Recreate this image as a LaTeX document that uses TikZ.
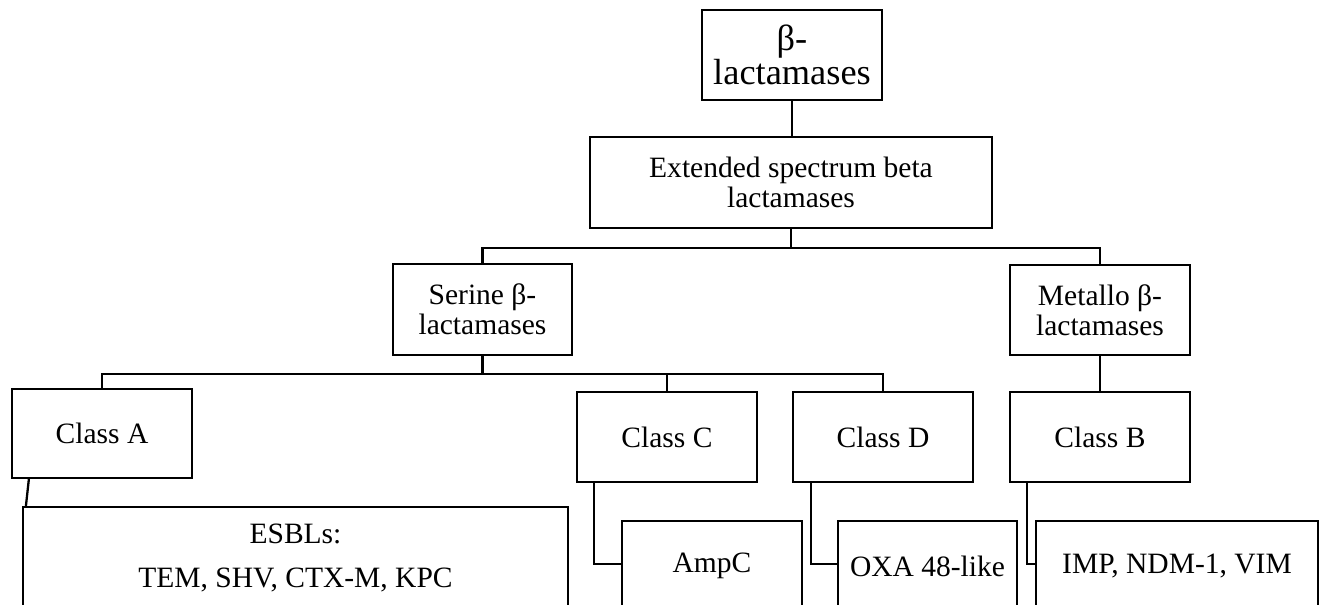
\documentclass[tikz,border=0pt]{standalone}
\usepackage{fontspec}
\setmainfont{Liberation Serif}
\usetikzlibrary{calc}

\tikzset{
	box/.style={draw, line width=1.3pt, align=center, inner sep=0pt,
		minimum width=3.6cm, minimum height=1.8cm,
		font=\fontsize{16.8}{17}\selectfont},
	link/.style={line width=1.3pt},
}

\begin{document}
\begin{tikzpicture}[x=0.02cm, y=-0.02cm]
		\useasboundingbox (0,0) rectangle (1320,605);
		\clip (0,0) rectangle (1320,605);
		
		\node[box, font=\fontsize{20.7}{17}\selectfont] (top) at (792,55) {β-\\lactamases};
		\node[box, minimum width=8.04cm, minimum height=1.82cm] (ext) at (791,182.5) {Extended spectrum beta\\lactamases};
		
		\node[box, minimum width=3.58cm, minimum height=1.82cm] (ser) at (482.5,309.5) {Serine β-\\lactamases};
		\node[box] (met) at (1100,310) {Metallo β-\\lactamases};
		
		\node[box, minimum height=1.78cm] (clA) at (102,433.5) {Class A};
		\node[box] (clC) at (667,437) {Class C};
		\node[box] (clD) at (883,437) {Class D};
		\node[box] (clB) at (1100,437) {Class B};
		
		\node[box, anchor=north, minimum width=10.9cm, inner ysep=0.34cm] (esbl) at (295.5,506) {ESBLs:\\[8pt]TEM, SHV, CTX-M, KPC};
		\node[box] (ampc) at (712,566) {AmpC};
		\node[box, minimum width=3.58cm] (oxa) at (927.5,566) {OXA 48-like};
		\node[box, minimum width=5.64cm] (imp) at (1177,566) {IMP, NDM-1, VIM};
		
		\draw[link] (top.south) -- (top.south |- ext.north);
		\draw[link] (ext.south) -- ++(0,19) coordinate (j1);
		\draw[link] (ser.north) |- (j1) -| (met.north);
		\draw[link] (ser.south) -- ++(0,18) coordinate (j2);
		\draw[link] (clA.north) |- (j2) -| (clD.north);
		\draw[link] (clC.north) -- (clC.north |- j2);
		\draw[link] (met.south) -- (clB.north);
		
		\draw[link] ([xshift=0.36cm]clA.south west) -- ([xshift=0.08cm]esbl.north west);
		\draw[link] ([xshift=0.36cm]clC.south west) |- ([yshift=0.04cm]ampc.west);
		\draw[link] ([xshift=0.38cm]clD.south west) |- ([yshift=0.04cm]oxa.west);
		\draw[link] ([xshift=0.36cm]clB.south west) |- ([yshift=0.04cm]imp.west);
\end{tikzpicture}
\end{document}
